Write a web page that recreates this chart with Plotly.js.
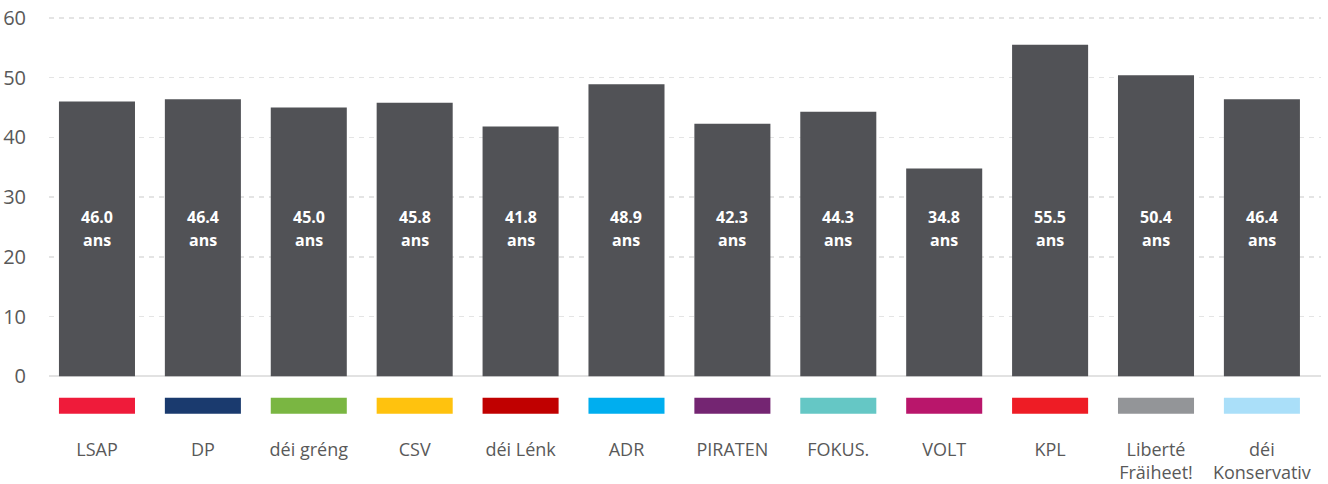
<!DOCTYPE html>
<html>
<head>
<meta charset="utf-8">
<script src="https://cdn.plot.ly/plotly-3.0.1.min.js"></script>
<style>html,body{margin:0;padding:0;background:#fff;}#chart{width:1328px;height:484px;}</style>
</head>
<body>
<div id="chart"></div>
<script>
const categories = ["LSAP","DP","déi gréng","CSV","déi Lénk","ADR","PIRATEN","FOKUS.","VOLT","KPL","Liberté<br>Fräiheet!","déi<br>Konservativ"];
const ages = [46.0, 46.4, 45.0, 45.8, 41.8, 48.9, 42.3, 44.3, 34.8, 55.5, 50.4, 46.4];
const partyColors = ["#EF1B3A","#1A3A6E","#7AB642","#FFC20E","#C00000","#00AEEF","#742572","#65C7C5","#B9166B","#EE1C25","#939598","#AADFF9"];
const unitLabel = "ans";
const yTicks = [0, 10, 20, 30, 40, 50, 60];

const x = categories.map((c, i) => i);
const stripBase = -6.3, stripHeight = 2.7;

const bars = {
  type: "bar", x: x, y: ages, marker: {color: "#515256"},
  hoverinfo: "skip", showlegend: false
};
const strips = {
  type: "bar", x: x, y: categories.map(() => stripHeight), base: categories.map(() => stripBase),
  marker: {color: partyColors}, hoverinfo: "skip", showlegend: false
};

const annotations = [];
ages.forEach((v, i) => {
  annotations.push({x: i, y: 25, yshift: 10, text: v.toFixed(1), showarrow: false,
    font: {family: "Open Sans", size: 16, color: "#ffffff", weight: "bold"}, xanchor: "center", yanchor: "middle"});
  annotations.push({x: i, y: 25, yshift: -13, text: unitLabel, showarrow: false,
    font: {family: "Open Sans", size: 16, color: "#ffffff", weight: "bold"}, xanchor: "center", yanchor: "middle"});
});

const layout = {
  width: 1328, height: 484,
  margin: {l: 49, r: 7, t: 9, b: 66},
  paper_bgcolor: "#ffffff", plot_bgcolor: "#ffffff",
  barmode: "overlay", bargap: 0.282,
  xaxis: {
    range: [-0.453, 11.558], tickvals: x, ticktext: categories,
    showgrid: false, zeroline: false, showline: false,
    ticks: "outside", ticklen: 15, tickcolor: "rgba(0,0,0,0)",
    tickfont: {family: "Open Sans", size: 18, color: "#595959"}, fixedrange: true
  },
  yaxis: {
    range: [-7, 61.5], tickvals: yTicks, ticktext: yTicks.map(String),
    showgrid: true, gridcolor: "#e4e4e4", gridwidth: 1.5, griddash: "5px,5px",
    zeroline: true, zerolinecolor: "#e2e2e2", zerolinewidth: 2.5, showline: false,
    ticks: "outside", ticklen: 18, tickcolor: "rgba(0,0,0,0)",
    tickfont: {family: "Open Sans", size: 20, color: "#595959"}, fixedrange: true
  },
  annotations: annotations
};

Plotly.newPlot("chart", [bars, strips], layout, {displayModeBar: false, staticPlot: true});
</script>
</body>
</html>
